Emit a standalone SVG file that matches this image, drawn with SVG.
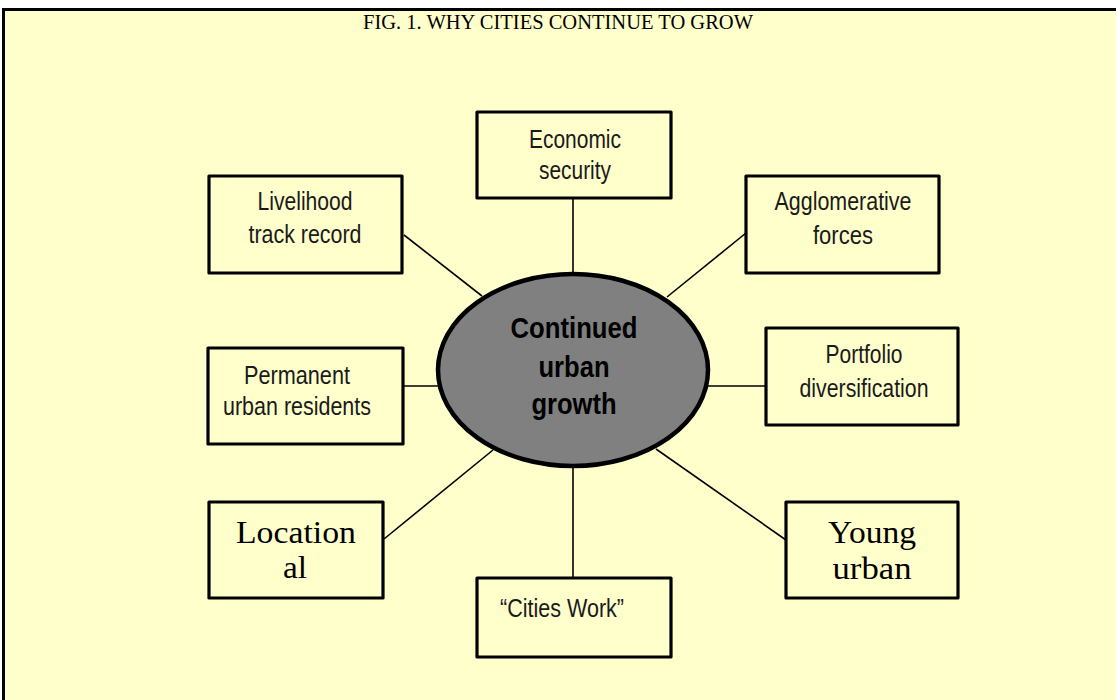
<svg xmlns="http://www.w3.org/2000/svg" width="1116" height="700" viewBox="0 0 1116 700">
<style>
.box{fill:#FFFFCC;stroke:#000;stroke-width:3.2;stroke-linejoin:round}
.conn line{stroke:#000;stroke-width:1.6}
.t{font-family:"Liberation Sans Narrow","Arial Narrow","Liberation Sans",Arial,sans-serif;font-size:25px;fill:#1a1a1a;text-anchor:middle}
.c{font-family:"Liberation Sans Narrow","Arial Narrow","Liberation Sans",Arial,sans-serif;font-size:30px;font-weight:bold;fill:#000;text-anchor:middle}
.s{font-family:"Liberation Serif","Times New Roman",serif;font-size:32px;fill:#000;text-anchor:middle}
.title{font-family:"Liberation Serif","Times New Roman",serif;font-size:20px;fill:#000;text-anchor:middle}
</style>
<rect x="0" y="0" width="1116" height="700" fill="#fff"/>
<rect x="4" y="9.5" width="1112" height="690.5" fill="#FFFFCC"/>
<path d="M3.5,700 V9.5 H1116" fill="none" stroke="#000" stroke-width="3"/>
<text class="title" x="558" y="29" textLength="390" lengthAdjust="spacingAndGlyphs">FIG. 1. WHY CITIES CONTINUE TO GROW</text>
<g id="connectors" class="conn">
<line x1="573" y1="198" x2="573" y2="274"/>
<line x1="404" y1="235" x2="482" y2="296"/>
<line x1="746" y1="233" x2="667" y2="297"/>
<line x1="403" y1="386" x2="439" y2="386"/>
<line x1="707" y1="386" x2="766" y2="386"/>
<line x1="384" y1="539" x2="493" y2="450"/>
<line x1="573" y1="466" x2="573" y2="578"/>
<line x1="656" y1="449" x2="786" y2="540"/>
</g>
<g id="center">
<ellipse cx="573" cy="370" rx="135" ry="96" fill="#808080" stroke="#000" stroke-width="4.5"/>
<text class="c" x="574" y="338" textLength="127" lengthAdjust="spacingAndGlyphs">Continued</text>
<text class="c" x="574" y="377" textLength="71" lengthAdjust="spacingAndGlyphs">urban</text>
<text class="c" x="574" y="414" textLength="85" lengthAdjust="spacingAndGlyphs">growth</text>
</g>
<g id="economic">
<rect class="box" x="477" y="112" width="194" height="86"/>
<text class="t" x="575" y="148" textLength="92" lengthAdjust="spacingAndGlyphs">Economic</text>
<text class="t" x="575" y="179" textLength="72" lengthAdjust="spacingAndGlyphs">security</text>
</g>
<g id="livelihood">
<rect class="box" x="209" y="176" width="193" height="97"/>
<text class="t" x="305" y="210" textLength="95" lengthAdjust="spacingAndGlyphs">Livelihood</text>
<text class="t" x="305" y="243" textLength="113" lengthAdjust="spacingAndGlyphs">track record</text>
</g>
<g id="agglomerative">
<rect class="box" x="746" y="176" width="193" height="97"/>
<text class="t" x="843" y="210" textLength="137" lengthAdjust="spacingAndGlyphs">Agglomerative</text>
<text class="t" x="843" y="244" textLength="60" lengthAdjust="spacingAndGlyphs">forces</text>
</g>
<g id="permanent">
<rect class="box" x="208" y="348" width="195" height="96"/>
<text class="t" x="297" y="384" textLength="106" lengthAdjust="spacingAndGlyphs">Permanent</text>
<text class="t" x="297" y="415" textLength="148" lengthAdjust="spacingAndGlyphs">urban residents</text>
</g>
<g id="portfolio">
<rect class="box" x="766" y="328" width="192" height="97"/>
<text class="t" x="864" y="363" textLength="77" lengthAdjust="spacingAndGlyphs">Portfolio</text>
<text class="t" x="864" y="397" textLength="129" lengthAdjust="spacingAndGlyphs">diversification</text>
</g>
<g id="locational">
<rect class="box" x="209" y="502" width="174" height="96"/>
<text class="s" x="296" y="543" textLength="120" lengthAdjust="spacingAndGlyphs">Location</text>
<text class="s" x="295" y="578" textLength="24" lengthAdjust="spacingAndGlyphs">al</text>
</g>
<g id="young">
<rect class="box" x="786" y="502" width="172" height="96"/>
<text class="s" x="872" y="543" textLength="88" lengthAdjust="spacingAndGlyphs">Young</text>
<text class="s" x="872" y="579" textLength="79" lengthAdjust="spacingAndGlyphs">urban</text>
</g>
<g id="citieswork">
<rect class="box" x="477" y="578" width="194" height="79"/>
<text class="t" x="562" y="617" textLength="124" lengthAdjust="spacingAndGlyphs">“Cities Work”</text>
</g>
</svg>
